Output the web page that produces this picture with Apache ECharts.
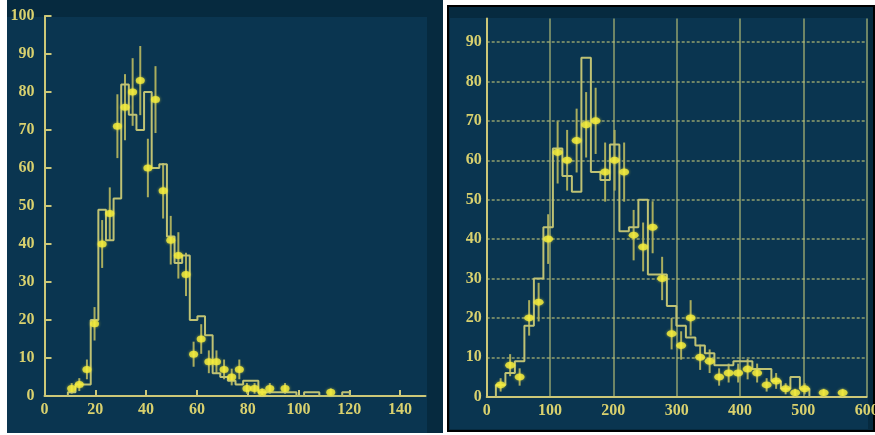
<!DOCTYPE html>
<html><head><meta charset="utf-8">
<script src="https://cdn.jsdelivr.net/npm/echarts@6/dist/echarts.min.js"></script>
<style>html,body{margin:0;padding:0;background:#fff;}#c{width:875px;height:435px;}</style>
</head><body><div id="c"></div>
<script>
// ---------- Left panel data ----------
const leftBinEdges = [9.2,12.2,15.2,18.2,21.2,24.2,27.2,30.2,33.2,36.2,39.2,42.2,45.2,48.2,51.2,54.2,57.2,60.2,63.2,66.2,69.2,72.2,75.2,78.2,81.2,84.2,87.2,90.2,93.2,96.2,99.2,102.2,105.2,108.2,111.2,114.2,117.2,120.2];
const leftHistCounts = [1,3,3,20,49,41,52,82,74,70,80,60,61,42,35,37,20,21,16,6,5,4,3,4,4,1,1,1,1,1,0,1,1,0,0,0,1];
const leftPointX = [10.7,13.7,16.7,19.7,22.7,25.7,28.7,31.7,34.7,37.7,40.7,43.7,46.7,49.7,52.7,55.7,58.7,61.7,64.7,67.7,70.7,73.7,76.7,79.7,82.7,85.7,88.7,94.7,112.7];
const leftPointY = [2,3,7,19,40,48,71,76,80,83,60,78,54,41,37,32,11,15,9,9,7,5,7,2,2,1,2,2,1];
const leftPointErr = [1.4,1.7,2.6,4.4,6.3,6.9,8.4,8.7,8.9,9.1,7.7,8.8,7.3,6.4,6.1,5.7,3.3,3.9,3,3,2.6,2.2,2.6,1.4,1.4,1,1.4,1.4,1];
const leftXTicks = [0,20,40,60,80,100,120,140];
const leftYTicks = [0,10,20,30,40,50,60,70,80,90,100];

// ---------- Right panel data ----------
const rightBinEdges = [14.5,29.5,44.5,59.5,74.5,89.5,104.5,119.5,134.5,149.5,164.5,179.5,194.5,209.5,224.5,239.5,254.5,269.5,284.5,299.5,314.5,329.5,344.5,359.5,374.5,389.5,404.5,419.5,434.5,449.5,464.5,479.5,494.5,509.5];
const rightHistCounts = [3,6,9,18,30,43,63,56,52,86,57,55,64,42,43,50,31,31,23,18,15,13,11,8,8,9,9,7,7,4,2,5,2];
const rightPointX = [22,37,52,67,82,97,112,127,142,157,172,187,202,217,232,247,262,277,292,307,322,337,352,367,382,397,412,427,442,457,472,487,502,532,562];
const rightPointY = [3,8,5,20,24,40,62,60,65,69,70,57,60,57,41,38,43,30,16,13,20,10,9,5,6,6,7,6,3,4,2,1,2,1,1];
const rightPointErr = [1.7,2.8,2.2,4.5,4.9,6.3,7.9,7.7,8.1,8.3,8.4,7.5,7.7,7.5,6.4,6.2,6.6,5.5,4,3.6,4.5,3.2,3,2.2,2.4,2.4,2.6,2.4,1.7,2,1.4,1,1.4,1,1];
const rightXTicks = [0,100,200,300,400,500,600];
const rightYTicks = [0,10,20,30,40,50,60,70,80,90];

// ---------- helpers ----------
function stepData(edges, counts){
  const d = [[edges[0], 0]];
  counts.forEach((c, i) => d.push([edges[i], c]));
  d.push([edges[edges.length - 1], 0]);
  return d;
}
function errData(xs, ys, es){
  return xs.map((x, i) => [x, Math.max(0, ys[i] - es[i]), ys[i] + es[i]]);
}
function pts(xs, ys){ return xs.map((x, i) => [x, ys[i]]); }

const LBL = '#d9d16e';
const AXC = '#cdc878';
const HIST = '#bfc274';
const ERRC = '#a9ad5e';
const PT = '#f6ee3c';
const labelStyle = {color: LBL, fontFamily: 'Liberation Serif', fontSize: 16, fontWeight: 'bold'};

const errRender = function(params, api){
  const p1 = api.coord([api.value(0), api.value(1)]);
  const p2 = api.coord([api.value(0), api.value(2)]);
  return {type: 'line', shape: {x1: p1[0], y1: p1[1], x2: p2[0], y2: p2[1]},
          style: {stroke: ERRC, lineWidth: 2}};
};

const chart = echarts.init(document.getElementById('c'), null, {renderer: 'canvas'});
chart.setOption({
  backgroundColor: '#ffffff',
  animation: false,
  graphic: [
    {type: 'rect', z: -10, shape: {x: 7, y: 0, width: 436, height: 433}, style: {fill: '#062a3f'}},
    {type: 'rect', z: -9, shape: {x: 7, y: 17, width: 420, height: 416}, style: {fill: '#0a3550'}},
    {type: 'rect', z: -10, shape: {x: 448, y: 6, width: 426, height: 425}, style: {fill: '#062a3f', stroke: '#000000', lineWidth: 2}},
    {type: 'rect', z: -9, shape: {x: 450, y: 18, width: 418, height: 411}, style: {fill: '#0a3550'}}
  ],
  grid: [
    {left: 44.5, top: 16, width: 381, height: 380, containLabel: false, outerBoundsMode: 'none'},
    {left: 486.7, top: 18.4, width: 380, height: 378.3, containLabel: false, outerBoundsMode: 'none'}
  ],
  xAxis: [
    {gridIndex: 0, type: 'value', min: 0, max: 150, interval: 20,
     axisLine: {show: true, lineStyle: {color: AXC, width: 2}},
     axisTick: {show: true, inside: true, length: 6, lineStyle: {color: AXC, width: 2}, customValues: leftXTicks},
     axisLabel: Object.assign({margin: 6, customValues: leftXTicks}, labelStyle),
     splitLine: {show: false}},
    {gridIndex: 1, type: 'value', min: 0, max: 600, interval: 100,
     axisLine: {show: true, lineStyle: {color: AXC, width: 2}},
     axisTick: {show: false},
     axisLabel: Object.assign({margin: 6, customValues: rightXTicks, alignMaxLabel: 'center'}, labelStyle),
     splitLine: {show: true, showMinLine: false, lineStyle: {color: 'rgba(190,196,120,0.75)', width: 1.5, type: 'solid'}}}
  ],
  yAxis: [
    {gridIndex: 0, type: 'value', min: 0, max: 100, interval: 10,
     axisLine: {show: true, lineStyle: {color: AXC, width: 2}},
     axisTick: {show: true, inside: true, length: 7, lineStyle: {color: AXC, width: 2}, customValues: leftYTicks},
     axisLabel: Object.assign({margin: 10, customValues: leftYTicks}, labelStyle),
     splitLine: {show: false}},
    {gridIndex: 1, type: 'value', min: 0, max: 96, interval: 10,
     axisLine: {show: true, lineStyle: {color: AXC, width: 2}},
     axisTick: {show: false},
     axisLabel: Object.assign({margin: 5, customValues: rightYTicks}, labelStyle),
     splitLine: {show: true, showMinLine: false, showMaxLine: false, lineStyle: {color: 'rgba(190,196,120,0.75)', width: 1.5, type: [3, 2]}}}
  ],
  series: [
    {type: 'custom', xAxisIndex: 0, yAxisIndex: 0, renderItem: errRender, data: errData(leftPointX, leftPointY, leftPointErr), z: 2},
    {type: 'line', xAxisIndex: 0, yAxisIndex: 0, step: 'end', symbol: 'none', data: stepData(leftBinEdges, leftHistCounts),
     lineStyle: {color: HIST, width: 2}, z: 3},
    {type: 'scatter', xAxisIndex: 0, yAxisIndex: 0, symbol: 'circle', symbolSize: [9, 7], data: pts(leftPointX, leftPointY),
     itemStyle: {color: PT, shadowBlur: 3, shadowColor: 'rgba(250,240,60,0.7)'}, z: 4},
    {type: 'custom', xAxisIndex: 1, yAxisIndex: 1, renderItem: errRender, data: errData(rightPointX, rightPointY, rightPointErr), z: 2},
    {type: 'line', xAxisIndex: 1, yAxisIndex: 1, step: 'end', symbol: 'none', data: stepData(rightBinEdges, rightHistCounts),
     lineStyle: {color: HIST, width: 2}, z: 3},
    {type: 'scatter', xAxisIndex: 1, yAxisIndex: 1, symbol: 'circle', symbolSize: [10, 7], data: pts(rightPointX, rightPointY),
     itemStyle: {color: PT, shadowBlur: 3, shadowColor: 'rgba(250,240,60,0.7)'}, z: 4}
  ]
});
</script>
</body></html>
